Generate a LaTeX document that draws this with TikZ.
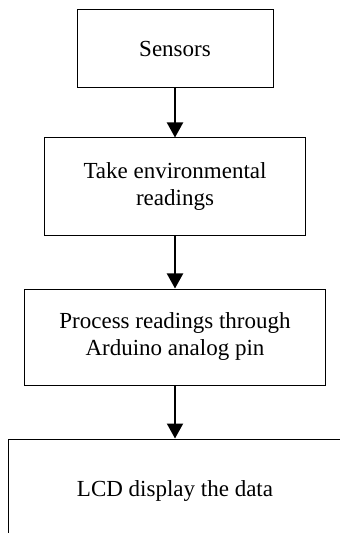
\documentclass[tikz,border=0pt]{standalone}
\usepackage{fontspec}
\setmainfont{Liberation Serif}
\usetikzlibrary{arrows.meta,positioning}

\begin{document}
\begin{tikzpicture}[node distance=25pt,>={Triangle[width=8pt,length=7.5pt]},
stage/.style={draw,line width=0.5pt,align=center,inner sep=0pt,font=\fontsize{11.5}{13.5}\selectfont},
arrow/.style={->,line width=1pt}]
\useasboundingbox (0,0) rectangle (169.5pt,-266.5pt);
\node[stage,minimum width=98pt,minimum height=39pt] (sensors) at (87.5pt,-24.5pt) {Sensors};
\node[stage,below=24.5pt of sensors,minimum width=130.5pt,minimum height=49pt] (readings) {Take environmental\\readings};
\node[stage,below=26pt of readings,minimum width=150.5pt,minimum height=48pt] (process) {Process readings through\\Arduino analog pin};
\node[stage,below=26.5pt of process,minimum width=167pt,minimum height=52pt] (lcd) {LCD display the data};
\draw[arrow] (sensors)--(readings);
\draw[arrow] (readings)--(process);
\draw[arrow] (process)--(lcd);
\end{tikzpicture}
\end{document}
